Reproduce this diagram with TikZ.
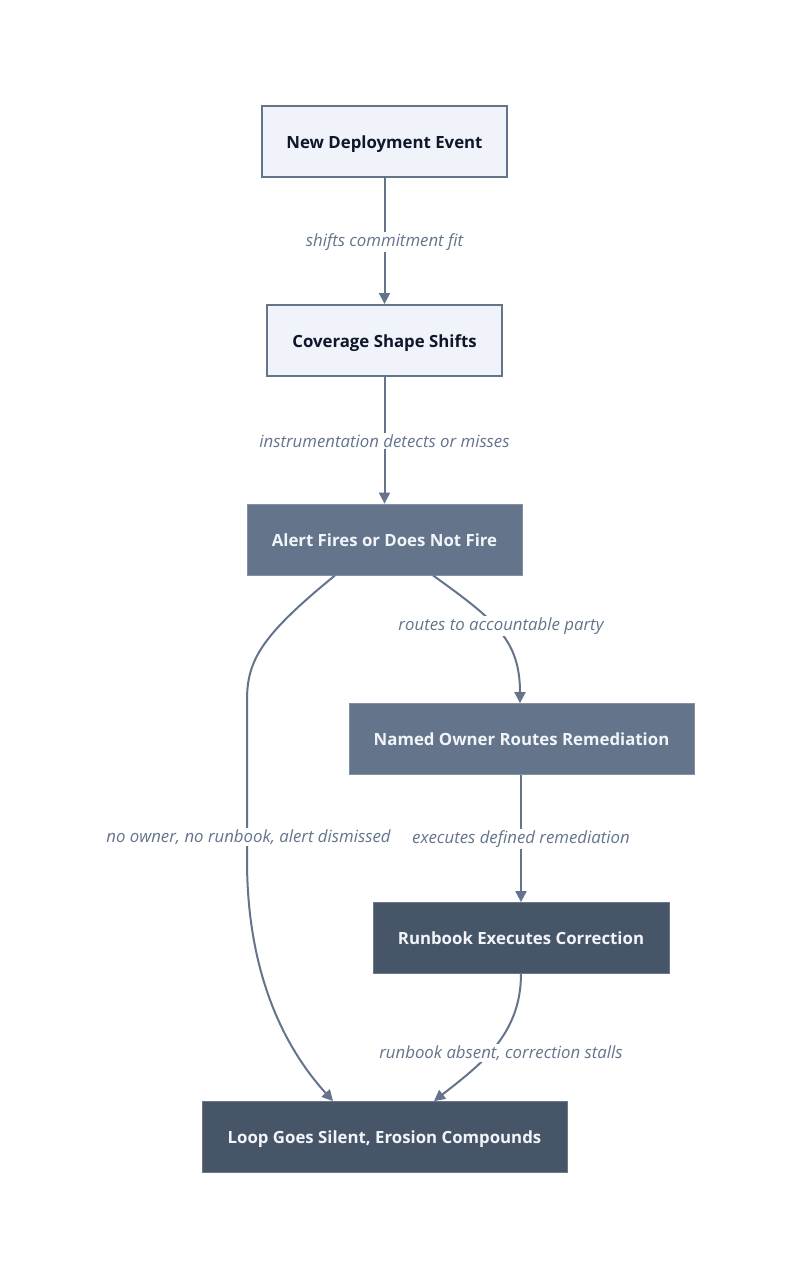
\documentclass[tikz,border=0pt]{standalone}
\usepackage{fontspec}
\setmainfont{Open Sans}
\usetikzlibrary{arrows.meta,calc}
\definecolor{lightfill}{HTML}{F0F3F9}
\definecolor{edgecol}{HTML}{64748B}
\definecolor{midfill}{HTML}{64748B}
\definecolor{darkfill}{HTML}{475569}
\definecolor{darktext}{HTML}{0F172A}
\definecolor{whitetext}{HTML}{F1F5F9}
\definecolor{labelcol}{HTML}{64748B}
\tikzset{
  x=1pt, y=1pt,
  box/.style={rectangle, minimum height=71pt, inner sep=0pt, text height=17pt, text depth=4pt, font=\fontsize{16.8}{20}\selectfont\bfseries},
  lightbox/.style={box, fill=lightfill, draw=edgecol, line width=2pt, text=darktext},
  midbox/.style={box, fill=midfill, draw=midfill!80!white, line width=0.8pt, text=whitetext},
  darkbox/.style={box, fill=darkfill, draw=darkfill!80!white, line width=0.8pt, text=whitetext},
  conn/.style={draw=edgecol, line width=2pt, -{Triangle[length=11pt,width=11pt]}},
  lbl/.style={fill=white, text=labelcol, inner sep=2pt, font=\fontsize{16.8}{20}\selectfont\itshape},
}
\begin{document}
\begin{tikzpicture}
\useasboundingbox (0,0) rectangle (800,-1280);
\fill[white] (0,0) rectangle (800,-1280);

\node[lightbox, minimum width=245pt] (n1) at (384.5,-141.5) {New Deployment Event};
\node[lightbox, minimum width=235pt] (n2) at (384.5,-340.5) {Coverage Shape Shifts};
\node[midbox, minimum width=275pt] (n3) at (384.5,-539.5) {Alert Fires or Does Not Fire};
\node[midbox, minimum width=345pt] (n4) at (521.5,-739) {Named Owner Routes Remediation};
\node[darkbox, minimum width=296pt] (n5) at (521,-938) {Runbook Executes Correction};
\node[darkbox, minimum width=365pt] (n6) at (384.5,-1137) {Loop Goes Silent, Erosion Compounds};

\draw[conn] (n1.south) -- (n2.north);
\node[lbl] (l1) at (384.5,-242) {shifts commitment fit};

\draw[conn] (n2.south) -- (n3.north);
\node[lbl] (l2) at (384.5,-441) {instrumentation detects or misses};

\draw[conn] ([xshift=48.5pt]n3.south) .. controls (495,-620) and (520,-640) .. ([xshift=-1.5pt]n4.north);
\node[lbl] (l3) at (501,-626) {routes to accountable party};

\draw[conn] ([xshift=-49.5pt]n3.south) .. controls (262,-635) and (247,-660) .. (247,-700) -- (247,-860) .. controls (247,-970) and (282,-1045) .. ([xshift=-51.5pt]n6.north);
\node[lbl] (l4) at (248.5,-837) {no owner, no runbook, alert dismissed};

\draw[conn] ([xshift=-0.5pt]n4.south) -- (n5.north);
\node[lbl] (l5) at (521,-839) {executes defined remediation};

\draw[conn] (n5.south) .. controls (521,-1035) and (480,-1065) .. ([xshift=49.5pt]n6.north);
\node[lbl] (l6) at (501,-1053) {runbook absent, correction stalls};
\end{tikzpicture}
\end{document}
